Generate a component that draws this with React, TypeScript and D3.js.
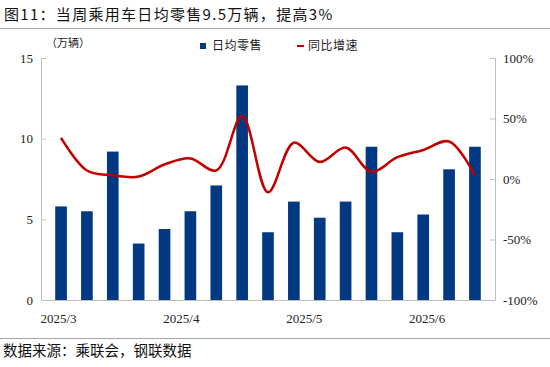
import { useEffect, useRef } from 'react';
import * as d3 from 'd3';

// weekly data, 17 weeks (2025/3 - 2025/6)
const weeks = d3.range(17).map(i => `W${i + 1}`);
const dailyRetail = [5.8, 5.5, 9.2, 3.5, 4.4, 5.5, 7.1, 13.3, 4.2, 6.1, 5.1, 6.1, 9.5, 4.2, 5.3, 8.1, 9.5];
const yoyGrowth = [34, 7, 3, 2, 12, 17, 7, 52, -11, 30, 14, 26, 6, 18, 24, 31, 3];
const monthLabels = ['2025/3', '2025/4', '2025/5', '2025/6'];
const monthPos = [-0.1, 4.65, 9.4, 14.15]; // position in week index units
const leftTicks = [0, 5, 10, 15];
const rightTicks = [-100, -50, 0, 50, 100];

const App = () => {
  const svgRef = useRef(null);

  useEffect(() => {
    const svg = d3.select(svgRef.current);
    svg.selectAll('*').remove();

    const width = 550;
    const height = 367;
    const left = 41, right = 495, top = 58, bottom = 300;
    const serif = '"Liberation Serif", "Times New Roman", serif';
    const cjk = '"Noto Sans CJK SC", sans-serif';

    svg.attr('width', width).attr('height', height);
    svg.append('rect').attr('width', width).attr('height', height).attr('fill', '#fff');

    // title + rules
    svg.append('text')
      .attr('x', 4).attr('y', 20)
      .attr('font-family', cjk).attr('font-size', 15)
      .attr('letter-spacing', 1.3)
      .attr('fill', '#111')
      .text('图11：当周乘用车日均零售9.5万辆，提高3%');
    svg.append('line').attr('x1', 0).attr('x2', width).attr('y1', 28.5).attr('y2', 28.5)
      .attr('stroke', '#a6a6a6').attr('stroke-width', 1);
    svg.append('line').attr('x1', 0).attr('x2', width).attr('y1', 338.5).attr('y2', 338.5)
      .attr('stroke', '#a6a6a6').attr('stroke-width', 1);
    svg.append('text')
      .attr('x', 3).attr('y', 356)
      .attr('font-family', cjk).attr('font-size', 14.5)
      .attr('fill', '#111')
      .text('数据来源：乘联会，钢联数据');

    const x = d3.scaleBand().domain(weeks).range([left, right]).padding(0.55);
    const xi = d3.scaleLinear()
      .domain([0, weeks.length - 1])
      .range([x(weeks[0]) + x.bandwidth() / 2, x(weeks[weeks.length - 1]) + x.bandwidth() / 2]);
    const y = d3.scaleLinear().domain([0, 15]).range([bottom, top]);
    const y2 = d3.scaleLinear().domain([-100, 100]).range([bottom, top]);

    // bars
    svg.selectAll('.bar')
      .data(dailyRetail)
      .enter()
      .append('rect')
      .attr('class', 'bar')
      .attr('x', (d, i) => x(weeks[i]))
      .attr('y', d => y(d))
      .attr('width', x.bandwidth())
      .attr('height', d => bottom - y(d))
      .attr('fill', '#003882');

    // line
    const line = d3.line()
      .x((d, i) => xi(i))
      .y(d => y2(d))
      .curve(d3.curveCatmullRom.alpha(0.5));
    svg.append('path')
      .datum(yoyGrowth)
      .attr('d', line)
      .attr('fill', 'none')
      .attr('stroke', '#c00000')
      .attr('stroke-width', 2.5);

    // axes
    const gray = '#bfbfbf';
    const lAxis = svg.append('g').attr('transform', `translate(${left},0)`)
      .call(d3.axisRight(y).tickValues(leftTicks).tickSize(5).tickFormat(d3.format('d')));
    lAxis.select('.domain').attr('stroke', gray).attr('d', `M0.5,${top}V${bottom}`);
    lAxis.selectAll('line').attr('stroke', gray);
    lAxis.selectAll('text').attr('x', -8).attr('text-anchor', 'end')
      .attr('font-family', serif).attr('font-size', 13).attr('fill', '#222');

    const rAxis = svg.append('g').attr('transform', `translate(${right},0)`)
      .call(d3.axisLeft(y2).tickValues(rightTicks).tickSize(5).tickFormat(d => `${d}%`));
    rAxis.select('.domain').attr('stroke', gray).attr('d', `M0.5,${top}V${bottom}`);
    rAxis.selectAll('line').attr('stroke', gray);
    rAxis.selectAll('text').attr('x', 8).attr('text-anchor', 'start')
      .attr('font-family', serif).attr('font-size', 13).attr('fill', '#222');

    svg.append('line').attr('x1', left).attr('x2', right + 0.5)
      .attr('y1', bottom + 0.5).attr('y2', bottom + 0.5).attr('stroke', gray);

    svg.selectAll('.month')
      .data(monthLabels)
      .enter()
      .append('text')
      .attr('class', 'month')
      .attr('x', (d, i) => xi(monthPos[i]))
      .attr('y', 323)
      .attr('text-anchor', 'middle')
      .attr('font-family', serif).attr('font-size', 13).attr('fill', '#222')
      .text(d => d);

    // unit
    svg.append('text')
      .attr('x', 46).attr('y', 47)
      .attr('font-family', cjk).attr('font-size', 11).attr('fill', '#222')
      .text('（万辆）');

    // legend
    const lg = svg.append('g').attr('font-family', cjk).attr('font-size', 12)
      .attr('letter-spacing', 0.5).attr('fill', '#222');
    lg.append('rect').attr('x', 200).attr('y', 43).attr('width', 6).attr('height', 6).attr('fill', '#003882');
    lg.append('text').attr('x', 212).attr('y', 50).text('日均零售');
    lg.append('rect').attr('x', 297).attr('y', 45).attr('width', 7).attr('height', 2).attr('fill', '#c00000');
    lg.append('text').attr('x', 308).attr('y', 50).text('同比增速');
  }, []);

  return (
    <svg ref={svgRef} style={{ position: 'absolute', left: 0, top: 0 }}></svg>
  );
};

export default App;
